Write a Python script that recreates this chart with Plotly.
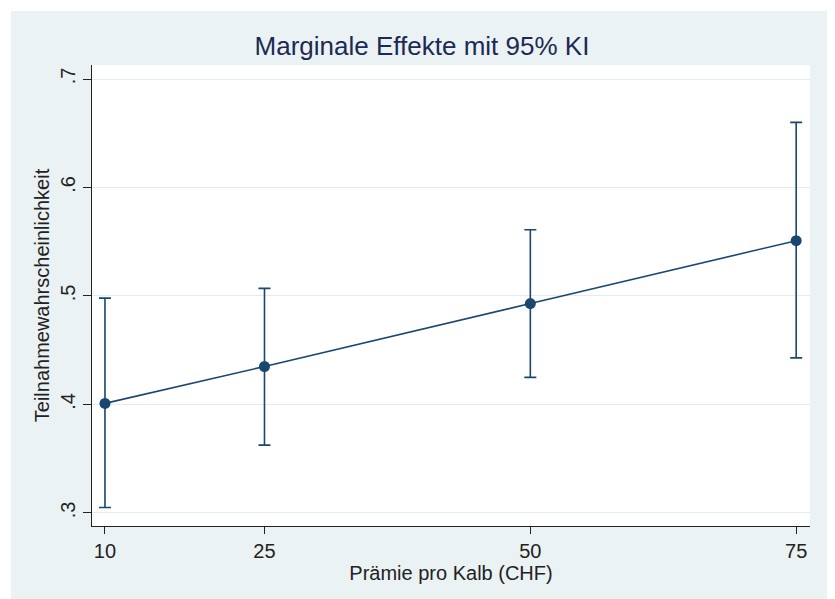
import plotly.graph_objects as go

praemie = [10, 25, 50, 75]
effekt = [0.401, 0.435, 0.493, 0.551]
ki_oben = [0.498, 0.507, 0.561, 0.660]
ki_unten = [0.305, 0.3625, 0.425, 0.443]

y_ticks = [0.3, 0.4, 0.5, 0.6, 0.7]
y_ticktext = [".3", ".4", ".5", ".6", ".7"]
x_ticks = [10, 25, 50, 75]

navy = "#1a476f"
bg = "#EAF2F3"
font_fam = "Liberation Sans, Arial, sans-serif"
txt = "#222222"

# page body has an 8px margin -> figure placed at (8,8)
OFF = 8
W, H = 835 - OFF, 599 - OFF
L, R, T, B = 92 - OFF, 835 - 810, 65 - OFF, 599 - 526
pw, ph = W - L - R, H - T - B

fig = go.Figure()
fig.add_trace(go.Scatter(
    x=praemie, y=effekt, mode="lines+markers",
    line=dict(color=navy, width=1.6),
    marker=dict(color=navy, size=11),
    error_y=dict(type="data", symmetric=False,
                 array=[o - e for o, e in zip(ki_oben, effekt)],
                 arrayminus=[e - u for e, u in zip(effekt, ki_unten)],
                 color=navy, thickness=1.6, width=6),
    showlegend=False,
))


def px(x):
    return (x - L) / pw


def py(y):
    return (H - B - y) / ph


edge = 11 - OFF
shapes = [
    dict(type="rect", xref="paper", yref="paper", x0=px(0), x1=px(W), y0=py(edge), y1=py(0),
         fillcolor="white", line=dict(width=0), layer="below"),
    dict(type="rect", xref="paper", yref="paper", x0=px(0), x1=px(edge), y0=py(H), y1=py(0),
         fillcolor="white", line=dict(width=0), layer="below"),
    dict(type="rect", xref="paper", yref="paper", x0=px(830 - OFF), x1=px(W), y0=py(H), y1=py(0),
         fillcolor="white", line=dict(width=0), layer="below"),
]

fig.update_layout(
    width=W, height=H,
    margin=dict(l=L, r=R, t=T, b=B),
    paper_bgcolor=bg, plot_bgcolor="white",
    font=dict(family=font_fam, color=txt, size=20),
    shapes=shapes,
    title=dict(text="Marginale Effekte mit 95% KI", xref="container", x=(422 - OFF) / W,
               xanchor="center", yref="container", y=1 - (46 - OFF) / H, yanchor="middle",
               font=dict(size=26, color="#1c2a55", family=font_fam)),
    xaxis=dict(range=[8.78, 76.3], tickvals=x_ticks, ticktext=[str(v) for v in x_ticks],
               showgrid=False, zeroline=False, showline=True, linecolor=txt, linewidth=1,
               ticks="outside", ticklen=7, tickcolor=txt, automargin=False,
               tickfont=dict(size=20, color=txt),
               title=dict(text="Prämie pro Kalb (CHF)", font=dict(size=20, color=txt), standoff=2)),
    yaxis=dict(range=[0.288, 0.7129], tickvals=y_ticks, ticktext=y_ticktext, tickangle=-90,
               showgrid=True, gridcolor="#E3ECEF", gridwidth=1.2, zeroline=False,
               showline=True, linecolor=txt, linewidth=1, automargin=False,
               ticks="outside", ticklen=8, tickcolor=txt,
               tickfont=dict(size=20, color=txt),
               title=dict(text="Teilnahmewahrscheinlichkeit", font=dict(size=20, color=txt), standoff=2)),
)

fig.write_html("out.html")
